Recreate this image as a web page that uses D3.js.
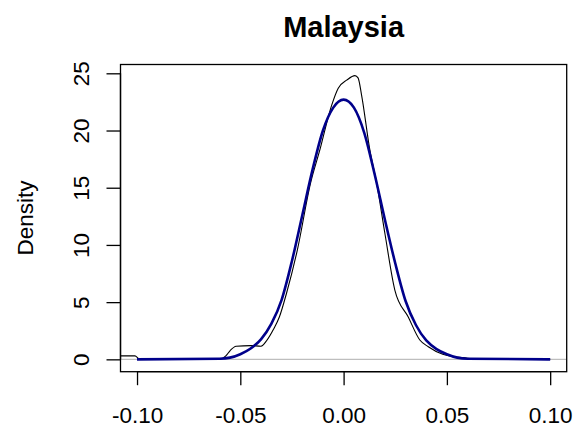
<!DOCTYPE html>
<html>
<head>
<meta charset="utf-8">
<script src="https://cdn.jsdelivr.net/npm/d3@7"></script>
<style>
  body { margin: 0; background: #fff; }
  text { font-family: "Liberation Sans", Arial, sans-serif; }
</style>
</head>
<body>
<script>
const width = 575;
const height = 435;

const kdeX = [-0.108, -0.101, -0.099, -0.097, -0.060, -0.057, -0.055, -0.052, -0.045, -0.040,
              -0.037, -0.034, -0.0311, -0.0276, -0.0224, -0.016, -0.0115, -0.0058, -0.0026, 0.0015,
              0.0055, 0.007, 0.0087, 0.0127, 0.016, 0.020, 0.0248, 0.0313, 0.0369, 0.041,
              0.048, 0.053, 0.058, 0.062, 0.065, 0.10];
const kdeY = [0.3, 0.3, 0.05, 0, 0, 0.3, 0.75, 1.15, 1.2, 1.15,
              1.7, 2.6, 3.7, 5.8, 9.55, 15.4, 18.3, 22.2, 23.7, 24.4,
              24.8, 24.6, 23.1, 18.3, 15.4, 11.0, 6.06, 3.7, 1.69, 1.1,
              0.44, 0.23, 0.15, 0.05, 0, 0];

// fitted normal density (blue)
const normX = [-0.10, -0.06, -0.055, -0.05, -0.045, -0.04, -0.035, -0.03, -0.025, -0.02,
               -0.015, -0.01, -0.005, 0, 0.005, 0.01, 0.015, 0.02, 0.025, 0.03,
               0.035, 0.04, 0.045, 0.05, 0.055, 0.06, 0.10];
const normY = [0, 0.05, 0.15, 0.45, 0.95, 1.75, 3.1, 5.2, 8.6, 12.6,
               16.6, 20.0, 22.0, 22.7, 22.0, 19.8, 16.2, 12.2, 8.4, 5.1,
               3.0, 1.65, 0.9, 0.45, 0.15, 0.05, 0];

const xTicks = [-0.10, -0.05, 0.00, 0.05, 0.10];
const yTicks = [0, 5, 10, 15, 20, 25];

const plotL = 120.5, plotR = 566.7, plotT = 64.5, plotB = 371.7;

const svg = d3.select('body')
  .append('svg')
  .attr('width', width)
  .attr('height', height);

const x = d3.scaleLinear().domain([-0.108, 0.108]).range([plotL, plotR]);
const y = d3.scaleLinear().domain([-1.08, 25.77]).range([plotB, plotT]);

svg.append('clipPath')
    .attr('id', 'plotclip')
  .append('rect')
    .attr('x', plotL).attr('y', plotT)
    .attr('width', plotR - plotL).attr('height', plotB - plotT);

const plot = svg.append('g').attr('clip-path', 'url(#plotclip)');

// zero line
plot.append('line')
    .attr('x1', plotL).attr('x2', plotR)
    .attr('y1', y(0)).attr('y2', y(0))
    .attr('stroke', '#bebebe')
    .attr('stroke-width', 1.2);

const line = d3.line()
    .x(d => x(d[0]))
    .y(d => y(d[1]))
    .curve(d3.curveMonotoneX);

plot.append('path')
    .datum(d3.zip(kdeX, kdeY))
    .attr('d', line)
    .attr('fill', 'none')
    .attr('stroke', '#000')
    .attr('stroke-width', 1.1);

plot.append('path')
    .datum(d3.zip(normX, normY))
    .attr('d', line)
    .attr('fill', 'none')
    .attr('stroke', '#00008b')
    .attr('stroke-width', 2.6);

// box
svg.append('rect')
    .attr('x', plotL).attr('y', plotT)
    .attr('width', plotR - plotL).attr('height', plotB - plotT)
    .attr('fill', 'none')
    .attr('stroke', '#000')
    .attr('stroke-width', 1.3);

// x axis
const xAxis = svg.append('g')
    .attr('transform', 'translate(0,' + plotB + ')')
    .call(d3.axisBottom(x).tickValues(xTicks).tickSize(13.5).tickFormat(d => d.toFixed(2)));
xAxis.select('.domain')
    .attr('d', 'M' + x(xTicks[0]) + ',0H' + x(xTicks[xTicks.length - 1]))
    .attr('stroke-width', 1.3);
xAxis.selectAll('.tick line').attr('stroke-width', 1.3);
xAxis.selectAll('.tick text')
    .attr('y', 51.6)
    .attr('dy', 0)
    .attr('fill', '#000')
    .style('font-size', '22.5px')
    .style('font-family', '"Liberation Sans", Arial, sans-serif');

// y axis
const yAxis = svg.append('g')
    .attr('transform', 'translate(' + plotL + ',0)')
    .call(d3.axisLeft(y).tickValues(yTicks).tickSize(14));
yAxis.select('.domain')
    .attr('d', 'M0,' + y(yTicks[0]) + 'V' + y(yTicks[yTicks.length - 1]))
    .attr('stroke-width', 1.3);
yAxis.selectAll('.tick line').attr('stroke-width', 1.3);
yAxis.selectAll('.tick text')
    .attr('transform', 'rotate(-90)')
    .attr('x', 0)
    .attr('y', -32)
    .attr('dy', 0)
    .attr('text-anchor', 'middle')
    .attr('fill', '#000')
    .style('font-size', '22.5px')
    .style('font-family', '"Liberation Sans", Arial, sans-serif');

// title and y label
svg.append('text')
    .attr('x', (plotL + plotR) / 2)
    .attr('y', 37)
    .attr('text-anchor', 'middle')
    .style('font-size', '29px')
    .style('font-weight', 'bold')
    .text('Malaysia');

svg.append('text')
    .attr('transform', 'translate(33,' + (plotT + plotB) / 2 + ') rotate(-90)')
    .attr('text-anchor', 'middle')
    .style('font-size', '22.5px')
    .text('Density');
</script>
</body>
</html>
